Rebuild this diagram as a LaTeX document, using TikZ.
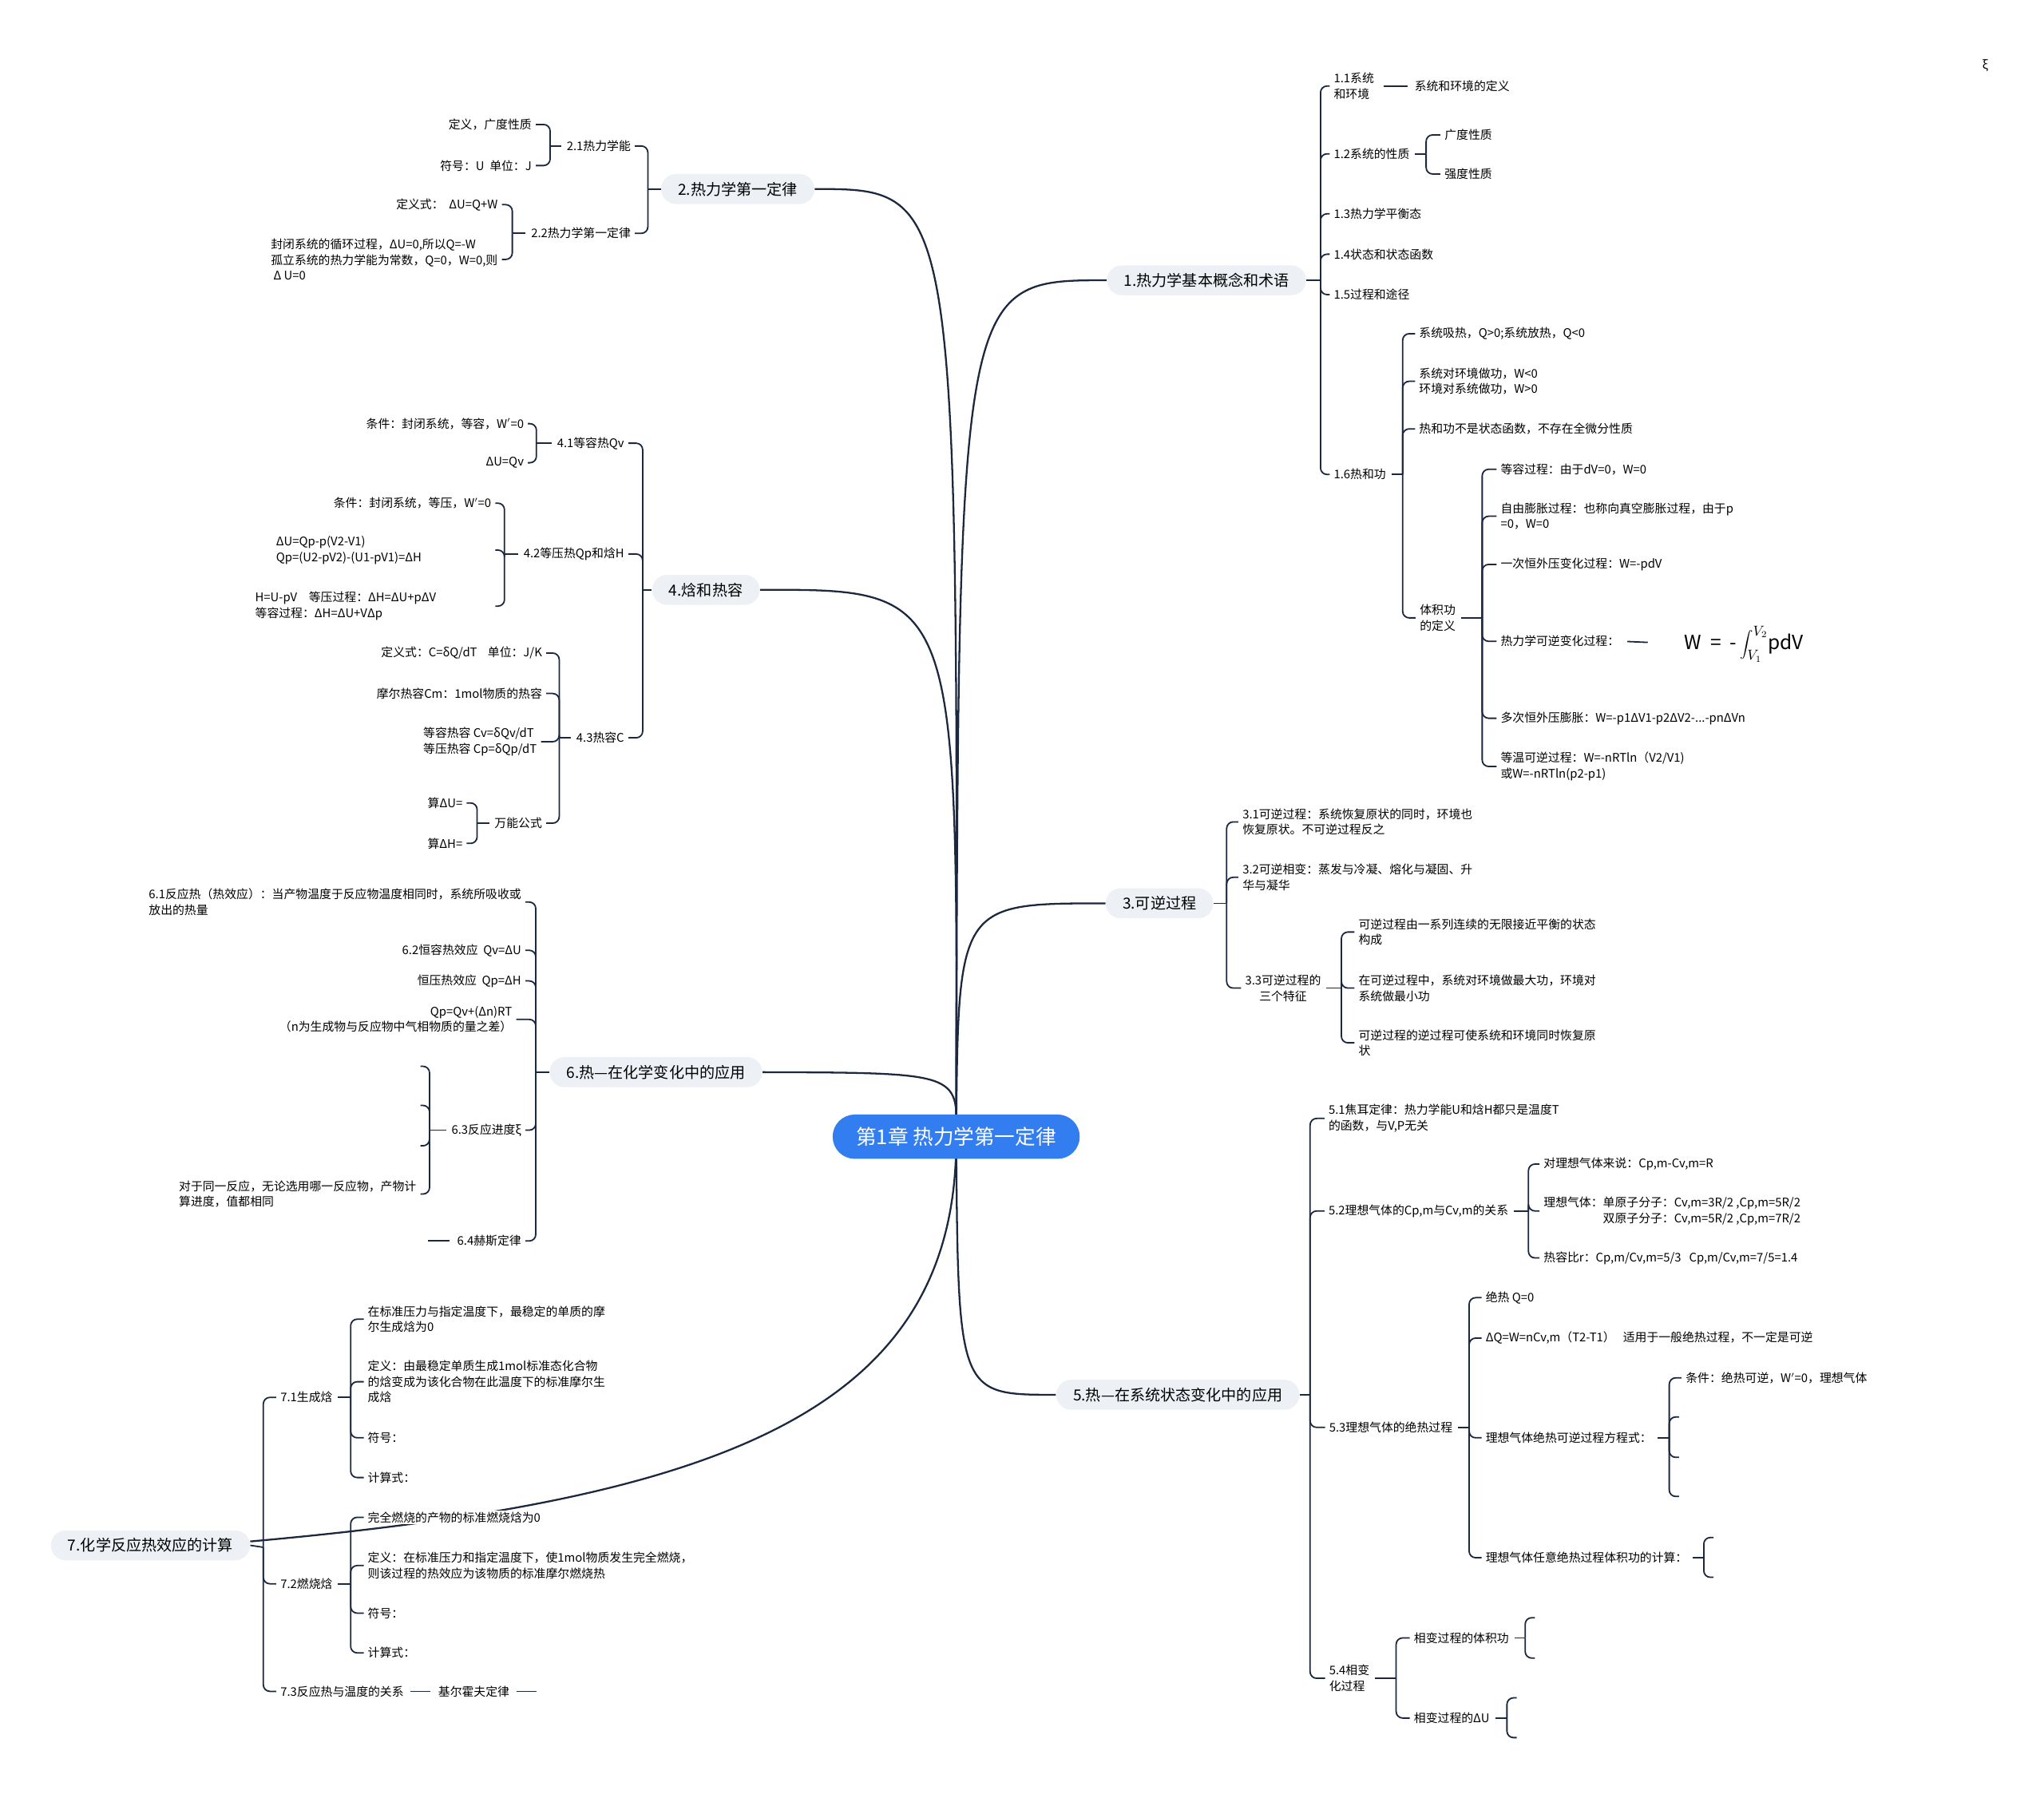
\documentclass[tikz,border=0pt]{standalone}
\usepackage{fontspec}
\setmainfont{Noto Sans CJK SC}
\usetikzlibrary{calc}
\usetikzlibrary{positioning}
\pgfdeclarelayer{bg}
\pgfsetlayers{bg,main}
\definecolor{linkcol}{RGB}{28,40,64}
\definecolor{pillcol}{RGB}{237,240,245}
\definecolor{rootcol}{RGB}{50,125,240}
\newcommand{\ap}{$'$}
\tikzset{
  root/.style={fill=rootcol, text=white, rounded corners=17pt, minimum height=34pt, inner xsep=18pt, font=\fontsize{15.7}{18}\selectfont},
  topic/.style={fill=pillcol, rounded corners=11.5pt, minimum height=23pt, inner xsep=13pt, font=\fontsize{11.7}{14}\selectfont},
  leaf/.style={fill=white, inner xsep=3pt, inner ysep=1pt, align=left, anchor=west, font=\fontsize{9.1}{12}\selectfont},
  lleaf/.style={leaf, anchor=east},
  curve/.style={draw=linkcol, line width=1.4pt},
  link/.style={draw=linkcol, line width=1.1pt},
  hook/.style={draw=linkcol, line width=1.1pt, rounded corners=5pt},
  stub/.style={draw=linkcol, line width=1.1pt, shorten <=1pt}
}
\begin{document}
\begin{tikzpicture}[x=1pt, y=-1pt]
\begin{pgfonlayer}{bg}
  \fill[white] (0,0) rectangle (1568,1382);
\end{pgfonlayer}
\useasboundingbox (0,0) rectangle (1568,1382);

\node[root] (root) at (733.5,872) {第1章 热力学第一定律};

\node[topic, anchor=west] (b1) at (849,215) {1.热力学基本概念和术语};
\node[topic, anchor=east] (b2) at (625,145) {2.热力学第一定律};
\node[topic, anchor=west] (b3) at (848,693) {3.可逆过程};
\node[topic, anchor=east] (b4) at (583,452.5) {4.焓和热容};
\node[topic, anchor=west] (b5) at (810,1070) {5.热—在系统状态变化中的应用};
\node[topic, anchor=east] (b6) at (585,822.5) {6.热—在化学变化中的应用};
\node[topic, anchor=east] (b7) at (192,1185.5) {7.化学反应热效应的计算};

\begin{pgfonlayer}{bg}
  \draw[curve] (root.center) .. controls (735,215) .. (b1.west);
  \draw[curve] (root.center) .. controls (735,145) .. (b2.east);
  \draw[curve] (root.center) .. controls (735,693) .. (b3.west);
  \draw[curve] (root.center) .. controls (735,452) .. (b4.east);
  \draw[curve] (root.center) .. controls (735,1070) .. (b5.west);
  \draw[curve] (root.center) .. controls (735,823) .. (b6.east);
  \draw[curve] (root.center) .. controls (735,1080) and (560,1150) .. ([yshift=3pt]b7.east);
\end{pgfonlayer}

% 1
\coordinate (s1) at (1013,215);
\node[leaf] (c11) at (1020,66) {1.1系统\\和环境};
\node[leaf] (c111) at (1082,66) {系统和环境的定义};
\node[leaf] (c12) at (1020,118) {1.2系统的性质};
\coordinate (s12) at (1094,118);
\node[leaf] (c121) at (1105,103.5) {广度性质};
\node[leaf] (c122) at (1105,133.5) {强度性质};
\node[leaf] (c13) at (1020,164) {1.3热力学平衡态};
\node[leaf] (c14) at (1020,195) {1.4状态和状态函数};
\node[leaf] (c15) at (1020,226) {1.5过程和途径};
\node[leaf] (c16) at (1020,364) {1.6热和功};
\coordinate (s16) at (1076,364);
\node[leaf] (c161) at (1085.5,256) {系统吸热，Q>0;系统放热，Q<0};
\node[leaf] (c162) at (1085.5,292.5) {系统对环境做功，W<0\\环境对系统做功，W>0};
\node[leaf] (c163) at (1085.5,329) {热和功不是状态函数，不存在全微分性质};
\node[leaf] (c164) at (1086,474) {体积功\\的定义};
\coordinate (s164) at (1137,474);
\node[leaf] (d1) at (1148,360) {等容过程：由于dV=0，W=0};
\node[leaf] (d2) at (1148,396) {自由膨胀过程：也称向真空膨胀过程，由于p\\=0，W=0};
\node[leaf] (d3) at (1148,433) {一次恒外压变化过程：W=-pdV};
\node[leaf] (d4) at (1148,492) {热力学可逆变化过程：};
\node[anchor=west, inner sep=0pt, font=\fontsize{15}{18}\selectfont] (frm) at (1292,494) {W\ \ =\ \ -\,$\displaystyle\int_{V_1}^{V_2}$pdV};
\node[leaf] (d5) at (1148,551) {多次恒外压膨胀：W=-p1ΔV1-p2ΔV2-...-pnΔVn};
\node[leaf] (d6) at (1148,588) {等温可逆过程：W=-nRTln（V2/V1)\\或W=-nRTln(p2-p1)};
\begin{pgfonlayer}{bg}
  \draw[link] (b1.east) -- (s1);
  \foreach \c in {c11,c12,c13,c14,c15,c16} \draw[hook] (s1) |- (\c.west);
  \draw[stub, shorten <=4pt, shorten >=2pt] (c11.east) -- (c111.west);
  \draw[stub] (c12.east) -- (s12);
  \foreach \c in {c121,c122} \draw[hook] (s12) |- (\c.west);
  \draw[stub] (c16.east) -- (s16);
  \foreach \c in {c161,c162,c163,c164} \draw[hook] (s16) |- (\c.west);
  \draw[stub] (c164.east) -- (s164);
  \foreach \c in {d1,d2,d3,d4,d5,d6} \draw[hook] (s164) |- (\c.west);
  \draw[stub, shorten <=3pt, shorten >=28pt] (d4.east) -- (frm.west);
\end{pgfonlayer}

% 2
\coordinate (s2) at (497,145);
\node[lleaf] (c21) at (487,112) {2.1热力学能};
\coordinate (s21) at (422,112);
\node[lleaf] (c211) at (411,95.5) {定义，广度性质};
\node[lleaf] (c212) at (411,127) {符号：U\ \ 单位：J};
\node[lleaf] (c22) at (487,179) {2.2热力学第一定律};
\coordinate (s22) at (393,179);
\node[lleaf] (c221) at (385,157) {定义式：\ \ ΔU=Q+W};
\node[lleaf] (c222) at (385,199) {封闭系统的循环过程，ΔU=0,所以Q=-W\\孤立系统的热力学能为常数，Q=0，W=0,则\\~Δ U=0};
\begin{pgfonlayer}{bg}
  \draw[link] (b2.west) -- (s2);
  \foreach \c in {c21,c22} \draw[hook] (s2) |- (\c.east);
  \draw[stub] (c21.west) -- (s21);
  \foreach \c in {c211,c212} \draw[hook] (s21) |- (\c.east);
  \draw[stub] (c22.west) -- (s22);
  \foreach \c in {c221,c222} \draw[hook] (s22) |- (\c.east);
\end{pgfonlayer}

% 3
\coordinate (s3) at (941,693);
\node[leaf] (c31) at (950,630.5) {3.1可逆过程：系统恢复原状的同时，环境也\\恢复原状。不可逆过程反之};
\node[leaf] (c32) at (950,673) {3.2可逆相变：蒸发与冷凝、熔化与凝固、升\\华与凝华};
\node[leaf, align=center] (c33) at (952,758) {3.3可逆过程的\\三个特征};
\coordinate (s33) at (1029,758);
\node[leaf] (c331) at (1039,715) {可逆过程由一系列连续的无限接近平衡的状态\\构成};
\node[leaf] (c332) at (1039,758) {在可逆过程中，系统对环境做最大功，环境对\\系统做最小功};
\node[leaf] (c333) at (1039,800) {可逆过程的逆过程可使系统和环境同时恢复原\\状};
\begin{pgfonlayer}{bg}
  \draw[link] (b3.east) -- (s3);
  \foreach \c in {c31,c32,c33} \draw[hook] (s3) |- (\c.west);
  \draw[stub] (c33.east) -- (s33);
  \foreach \c in {c331,c332,c333} \draw[hook] (s33) |- (\c.west);
\end{pgfonlayer}

% 4
\coordinate (s4) at (493,452.5);
\node[lleaf] (c41) at (482,340) {4.1等容热Qv};
\coordinate (s41) at (411.5,340);
\node[lleaf] (c411) at (405,325) {条件：封闭系统，等容，W\ap=0};
\node[lleaf] (c412) at (405,355) {ΔU=Qv};
\node[lleaf] (c42) at (482,425) {4.2等压热Qp和焓H};
\coordinate (s42) at (387,425);
\node[lleaf] (c421) at (380,386) {条件：封闭系统，等压，W\ap=0};
\node[lleaf, text width=165pt] (c422) at (380,422) {ΔU=Qp-p(V2-V1)\\Qp=(U2-pV2)-(U1-pV1)=ΔH};
\node[lleaf, text width=181pt] (c423) at (380,465) {H=U-pV\ \ \ 等压过程：ΔH=ΔU+pΔV\\等容过程：ΔH=ΔU+VΔp};
\node[lleaf] (c43) at (482,566) {4.3热容C};
\coordinate (s43) at (429,566);
\node[lleaf] (c431) at (419,501) {定义式：C=δQ/dT\ \ \ \ 单位：J/K};
\node[lleaf] (c432) at (419,532) {摩尔热容Cm：1mol物质的热容};
\node[lleaf] (c433) at (415,569) {等容热容 Cv=δQv/dT\\等压热容 Cp=δQp/dT};
\node[lleaf] (c434) at (419,631.5) {万能公式};
\coordinate (s434) at (366,631.5);
\node[lleaf] (c4341) at (358,616) {算ΔU=};
\node[lleaf] (c4342) at (358,647) {算ΔH=};
\begin{pgfonlayer}{bg}
  \draw[link] (b4.west) -- (s4);
  \foreach \c in {c41,c42,c43} \draw[hook] (s4) |- (\c.east);
  \draw[stub] (c41.west) -- (s41);
  \foreach \c in {c411,c412} \draw[hook] (s41) |- (\c.east);
  \draw[stub] (c42.west) -- (s42);
  \foreach \c in {c421,c422,c423} \draw[hook] (s42) |- (\c.east);
  \draw[stub] (c43.west) -- (s43);
  \foreach \c in {c431,c432,c433,c434} \draw[hook] (s43) |- (\c.east);
  \draw[stub] (c434.west) -- (s434);
  \foreach \c in {c4341,c4342} \draw[hook] (s434) |- (\c.east);
\end{pgfonlayer}

% 5
\coordinate (s5) at (1005,1070);
\node[leaf] (c51) at (1016,858) {5.1焦耳定律：热力学能U和焓H都只是温度T\\的函数，与V,P无关};
\node[leaf] (c52) at (1016,929) {5.2理想气体的Cp,m与Cv,m的关系};
\coordinate (s52) at (1172.5,929);
\node[leaf] (c521) at (1181,893) {对理想气体来说：Cp,m-Cv,m=R};
\node[leaf] (c522) at (1181,929) {理想气体：单原子分子：Cv,m=3R/2 ,Cp,m=5R/2\\\phantom{理想气体：}双原子分子：Cv,m=5R/2 ,Cp,m=7R/2};
\node[leaf] (c523) at (1181,965) {热容比r：Cp,m/Cv,m=5/3\ \ \ Cp,m/Cv,m=7/5=1.4};
\node[leaf] (c53) at (1016.5,1095) {5.3理想气体的绝热过程};
\coordinate (s53) at (1127,1095);
\node[leaf] (c531) at (1136.5,995.5) {绝热 Q=0};
\node[leaf] (c532) at (1136.5,1026.5) {ΔQ=W=nCv,m（T2-T1）\ \ \ 适用于一般绝热过程，不一定是可逆};
\node[leaf] (c533) at (1136.5,1103) {理想气体绝热可逆过程方程式：};
\coordinate (s533) at (1280.5,1103);
\node[leaf] (c5331) at (1290,1057) {条件：绝热可逆，W\ap=0，理想气体};
\coordinate (e1) at (1288,1087);
\coordinate (e2) at (1288,1118);
\coordinate (e3) at (1288,1148);
\node[leaf] (c534) at (1136.5,1195) {理想气体任意绝热过程体积功的计算：};
\coordinate (s534) at (1307,1195);
\coordinate (e4) at (1314.5,1179.5);
\coordinate (e5) at (1314.5,1210);
\node[leaf] (c54) at (1016.5,1287.5) {5.4相变\\化过程};
\coordinate (s54) at (1071,1287.5);
\node[leaf] (c541) at (1081.5,1256.5) {相变过程的体积功};
\coordinate (s541) at (1170,1256.5);
\coordinate (e6) at (1177.5,1241);
\coordinate (e7) at (1177.5,1272);
\node[leaf] (c542) at (1081.5,1318) {相变过程的ΔU};
\coordinate (s542) at (1156,1318);
\coordinate (e8) at (1163.5,1302.5);
\coordinate (e9) at (1163.5,1333);
\begin{pgfonlayer}{bg}
  \draw[link] (b5.east) -- (s5);
  \foreach \c in {c51,c52,c53,c54} \draw[hook] (s5) |- (\c.west);
  \draw[stub] (c52.east) -- (s52);
  \foreach \c in {c521,c522,c523} \draw[hook] (s52) |- (\c.west);
  \draw[stub] (c53.east) -- (s53);
  \foreach \c in {c531,c532,c533,c534} \draw[hook] (s53) |- (\c.west);
  \draw[stub] (c533.east) -- (s533);
  \draw[hook] (s533) |- (c5331.west);
  \foreach \c in {e1,e2,e3} \draw[hook] (s533) |- (\c);
  \draw[stub] (c534.east) -- (s534);
  \foreach \c in {e4,e5} \draw[hook] (s534) |- (\c);
  \draw[stub] (c54.east) -- (s54);
  \foreach \c in {c541,c542} \draw[hook] (s54) |- (\c.west);
  \draw[stub] (c541.east) -- (s541);
  \foreach \c in {e6,e7} \draw[hook] (s541) |- (\c);
  \draw[stub] (c542.east) -- (s542);
  \foreach \c in {e8,e9} \draw[hook] (s542) |- (\c);
\end{pgfonlayer}

% 6
\coordinate (s6) at (411,822.5);
\node[lleaf] (c61) at (403,692) {6.1反应热（热效应）：当产物温度于反应物温度相同时，系统所吸收或\\放出的热量};
\node[lleaf] (c62) at (403,729) {6.2恒容热效应\ \ Qv=ΔU};
\node[lleaf] (c63) at (403,752.5) {恒压热效应\ \ Qp=ΔH};
\node[lleaf, align=right] (c64) at (396,782) {Qp=Qv+(Δn)RT\\（n为生成物与反应物中气相物质的量之差）};
\node[lleaf] (c65) at (403,867) {6.3反应进度ξ};
\coordinate (s65) at (329.5,867);
\coordinate (e10) at (322.5,818);
\coordinate (e11) at (322.5,848);
\coordinate (e12) at (322.5,879);
\node[lleaf] (c651) at (322.5,916) {对于同一反应，无论选用哪一反应物，产物计\\算进度，值都相同};
\node[lleaf] (c66) at (403,952) {6.4赫斯定律};
\coordinate (e13) at (328,952);
\begin{pgfonlayer}{bg}
  \draw[link] (b6.west) -- (s6);
  \foreach \c in {c61,c62,c63,c64,c65,c66} \draw[hook] (s6) |- (\c.east);
  \draw[stub] (c65.west) -- (s65);
  \foreach \c in {e10,e11,e12} \draw[hook] (s65) |- (\c);
  \draw[hook] (s65) |- (c651.east);
  \draw[stub, shorten <=3pt] (c66.west) -- (e13);
\end{pgfonlayer}

% 7
\coordinate (s7) at (202,1187);
\node[leaf] (c71) at (212,1072) {7.1生成焓};
\coordinate (s71) at (269,1072);
\node[leaf] (c711) at (279,1012) {在标准压力与指定温度下，最稳定的单质的摩\\尔生成焓为0};
\node[leaf] (c712) at (279,1060) {定义：由最稳定单质生成1mol标准态化合物\\的焓变成为该化合物在此温度下的标准摩尔生\\成焓};
\node[leaf] (c713) at (279,1103) {符号：};
\node[leaf] (c714) at (279,1133.5) {计算式：};
\node[leaf] (c72) at (212,1215) {7.2燃烧焓};
\coordinate (s72) at (269,1215);
\node[leaf] (c721) at (279,1164) {完全燃烧的产物的标准燃烧焓为0};
\node[leaf] (c722) at (279,1201) {定义：在标准压力和指定温度下，使1mol物质发生完全燃烧，\\则该过程的热效应为该物质的标准摩尔燃烧热};
\node[leaf] (c723) at (279,1237.5) {符号：};
\node[leaf] (c724) at (279,1268) {计算式：};
\node[leaf] (c73) at (212,1297.5) {7.3反应热与温度的关系};
\node[leaf] (c731) at (333,1297.5) {基尔霍夫定律};
\coordinate (e14) at (411.5,1297.5);
\begin{pgfonlayer}{bg}
  \draw[link] (b7.east) -- (s7);
  \foreach \c in {c71,c72,c73} \draw[hook] (s7) |- (\c.west);
  \draw[stub] (c71.east) -- (s71);
  \foreach \c in {c711,c712,c713,c714} \draw[hook] (s71) |- (\c.west);
  \draw[stub] (c72.east) -- (s72);
  \foreach \c in {c721,c722,c723,c724} \draw[hook] (s72) |- (\c.west);
  \draw[stub, shorten <=2pt, shorten >=3pt] (c73.east) -- (c731.west);
  \draw[stub, shorten <=2pt] (c731.east) -- (e14);
\end{pgfonlayer}

\node[font=\fontsize{9.1}{12}\selectfont] (xi) at (1523,50) {ξ};
\end{tikzpicture}
\end{document}
